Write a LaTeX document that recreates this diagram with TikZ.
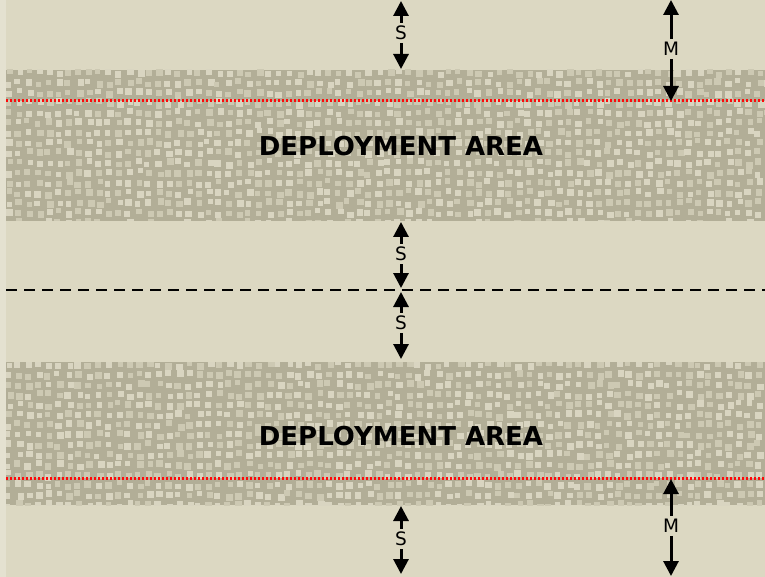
\documentclass[tikz,border=0pt]{standalone}
\usepackage{fontspec}
\setmainfont{DejaVu Sans}
\usetikzlibrary{arrows.meta}
\definecolor{bgc}{HTML}{DCD8C2}
\definecolor{bandc}{HTML}{B2AE97}
\definecolor{dotA}{HTML}{CDC9B3}
\definecolor{dotB}{HTML}{D9D5C1}
\definecolor{edgec}{HTML}{E4E1D0}
\definecolor{redline}{HTML}{FF0A0A}
\tikzset{
  dimarrow/.style={line width=3pt, -{Triangle[width=15pt,length=15pt]}},
  dimlabel/.style={font=\fontsize{18.5}{18.5}\selectfont, inner sep=3pt},
  areatext/.style={font=\fontsize{26}{26}\selectfont\bfseries, inner sep=0pt},
  redborder/.style={draw=redline, line width=3pt, dash pattern=on 2.2pt off 1.8pt},
  midline/.style={draw=black, line width=2.6pt, dash pattern=on 11pt off 7pt},
}
\newcommand{\stipple}[2]{%
  \begin{scope}
    \clip (6,#1) rectangle (765,#2);
    \fill[bandc] (6,#1) rectangle (765,#2);
    \pgfmathsetmacro{\ny}{int((#2-#1)/10)+1}
    \foreach \i in {0,...,77}{
      \foreach \j in {0,...,\ny}{
        \pgfmathsetmacro{\px}{4+\i*10+rnd*4}
        \pgfmathsetmacro{\py}{#1-2+\j*10+rnd*4}
        \pgfmathsetmacro{\sz}{5+rnd*2}
        \pgfmathsetmacro{\pick}{rnd}
        \ifdim\pick pt<0.5pt
          \fill[dotA] (\px,\py) rectangle ++(\sz,\sz);
        \else
          \fill[dotB] (\px,\py) rectangle ++(\sz,\sz);
        \fi
      }
    }
  \end{scope}}
\begin{document}
\begin{tikzpicture}[x=1pt,y=-1pt]
\useasboundingbox (0,0) rectangle (765,577);
\fill[bgc] (0,0) rectangle (765,577);
\fill[edgec] (0,0) rectangle (6,577);
\pgfmathsetseed{7}
\stipple{70}{221}
\stipple{362}{505}
% red borders
\coordinate (r1l) at (6,101); \coordinate (r1r) at (765,101);
\coordinate (r2l) at (6,478); \coordinate (r2r) at (765,478);
\draw[redborder] (r1l) -- (r1r);
\draw[redborder] (r2l) -- (r2r);
% dashed center line
\coordinate (ml) at (6,290); \coordinate (mr) at (765,290);
\draw[midline] (ml) -- (mr);
% area labels
\node[areatext] (a1) at (401,146) {DEPLOYMENT AREA};
\node[areatext] (a2) at (401,436) {DEPLOYMENT AREA};
% S top
\node[dimlabel] (s1) at (401,33) {S};
\coordinate (s1a) at (401,1); \coordinate (s1b) at (401,69);
\draw[dimarrow] (s1) -- (s1a); \draw[dimarrow] (s1) -- (s1b);
% S middle upper
\node[dimlabel] (s2) at (401,254) {S};
\coordinate (s2a) at (401,222); \coordinate (s2b) at (401,288);
\draw[dimarrow] (s2) -- (s2a); \draw[dimarrow] (s2) -- (s2b);
% S middle lower
\node[dimlabel] (s3) at (401,323) {S};
\coordinate (s3a) at (401,292); \coordinate (s3b) at (401,359);
\draw[dimarrow] (s3) -- (s3a); \draw[dimarrow] (s3) -- (s3b);
% S bottom
\node[dimlabel] (s4) at (401,539) {S};
\coordinate (s4a) at (401,506); \coordinate (s4b) at (401,574);
\draw[dimarrow] (s4) -- (s4a); \draw[dimarrow] (s4) -- (s4b);
% M top
\node[dimlabel] (m1) at (671,49) {M};
\coordinate (m1a) at (671,0); \coordinate (m1b) at (671,101);
\draw[dimarrow] (m1) -- (m1a); \draw[dimarrow] (m1) -- (m1b);
% M bottom
\node[dimlabel] (m2) at (671,526) {M};
\coordinate (m2a) at (671,479); \coordinate (m2b) at (671,576);
\draw[dimarrow] (m2) -- (m2a); \draw[dimarrow] (m2) -- (m2b);
\end{tikzpicture}
\end{document}
